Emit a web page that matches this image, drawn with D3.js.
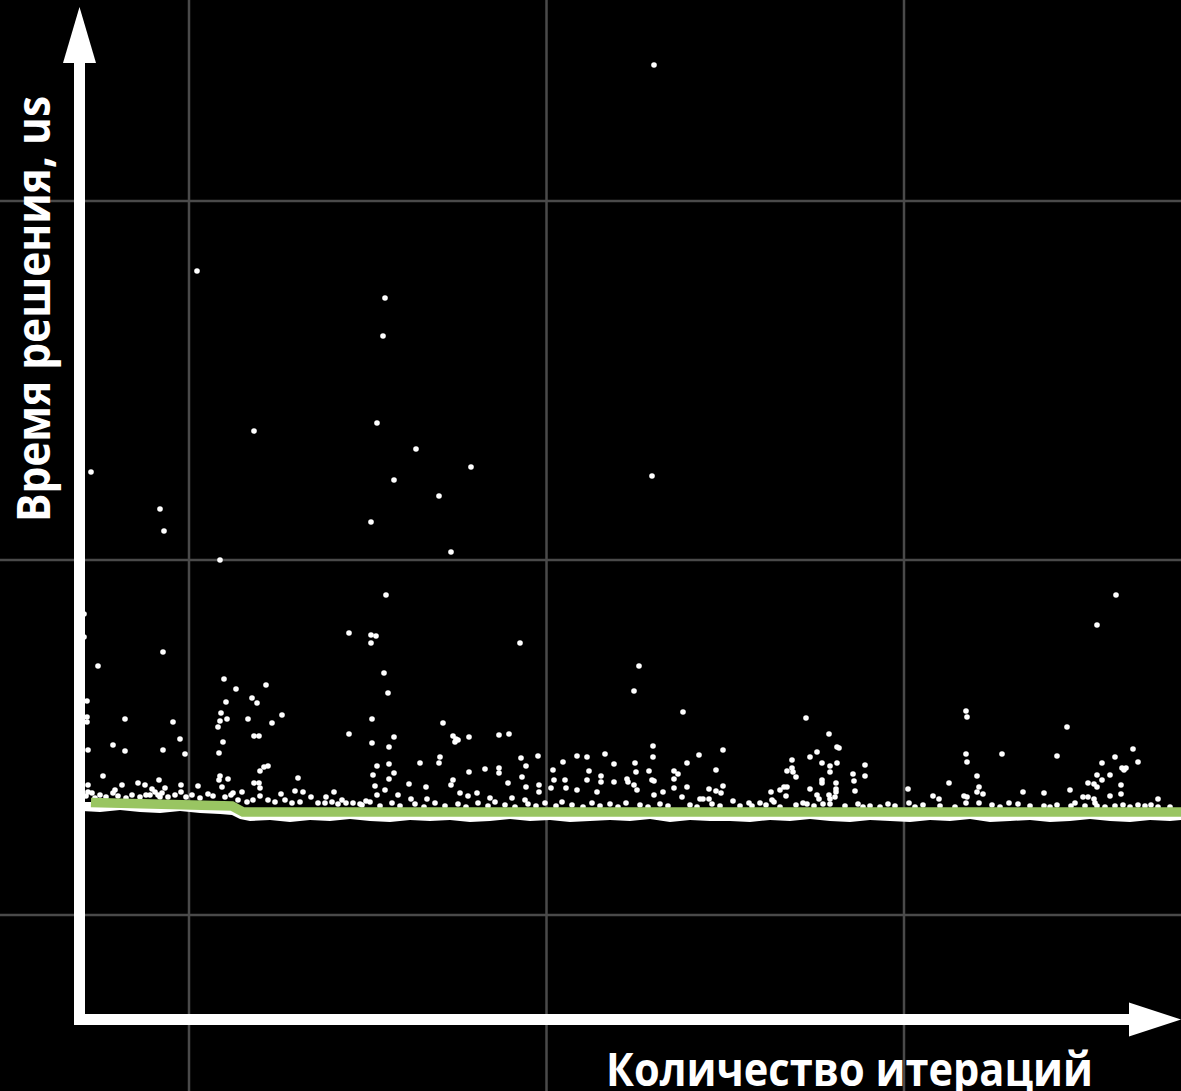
<!DOCTYPE html>
<html lang="ru">
<head>
<meta charset="utf-8">
<title>Время решения</title>
<script src="https://cdn.jsdelivr.net/npm/d3@7"></script>
<style>
  html, body { margin: 0; padding: 0; background: #000; }
  svg { display: block; }
</style>
</head>
<body>
<svg id="chart" width="1181" height="1091"></svg>
<script>
// Axis titles
const xTitle = "Количество итераций";
const yTitle = "Время решения, us";

// Background grid values (iterations / microseconds)
const gridX = [110, 467.5, 825];
const gridY = [105, 460, 819];

// Trend of the solve time (green line)
const trendX = [12, 153, 164, 1102];
const trendY = [217.5, 214, 208, 208];

// Dense core of fastest solves: upper and lower edge along the run
const bandX = [3, 21, 41, 61, 81, 101, 121, 141, 153, 161, 171,
  191, 211, 231, 251, 271, 291, 311, 331, 351, 371, 391, 411, 431, 451,
  471, 491, 511, 531, 551, 571, 591, 611, 631, 651, 671, 691, 711, 731,
  751, 771, 791, 811, 831, 851, 871, 891, 911, 931, 951, 971, 991, 1011,
  1031, 1051, 1071, 1091, 1102];
const bandTop = [218, 218, 218, 218, 218, 218, 218, 218, 218, 210, 210,
  210, 210, 210, 210, 210, 210, 210, 210, 210, 210, 210, 210, 210, 210,
  210, 210, 210, 210, 210, 210, 210, 210, 210, 210, 210, 210, 210, 210,
  210, 210, 210, 210, 210, 210, 210, 210, 210, 210, 210, 210, 210, 210,
  210, 210, 210, 210, 210];
const bandBottom = [209, 208, 210, 208, 207, 209, 207, 206, 205, 201,
  199, 200, 198, 200, 199, 201, 199, 198, 200, 199,
  200, 198, 199, 201, 199, 200, 198, 199, 200, 199,
  201, 198, 200, 199, 199, 198, 200, 199, 201, 199,
  198, 200, 199, 198, 200, 199, 201, 198, 199, 200,
  198, 199, 201, 199, 198, 200, 199, 200];

// Individual solves: [iteration, time in us]
const outliers = [
  [575, 955], [118, 749], [306, 722], [304, 684], [298, 597], [175, 589],
  [12, 548], [392, 553], [337, 571], [573, 544], [315, 540], [360, 524],
  [81, 511], [85, 489], [292, 498], [372, 468], [141, 460], [307, 425],
  [1037, 425], [1018, 395], [441, 377], [270, 387], [292, 385], [297, 384],
  [292, 377], [84, 368], [305, 347], [560, 354], [555, 329], [309, 327],
  [19, 354], [5, 406], [5, 383]
];

const spread = [
  [8, 319], [8, 303], [8, 298], [46, 301], [94, 298], [145, 341], [157, 331],
  [187, 335], [173, 322], [178, 317], [147, 318], [142, 307], [141, 299],
  [139, 293], [148, 301], [169, 301], [193, 297], [203, 305], [175, 284],
  [180, 284], [144, 278], [101, 281], [140, 267], [106, 266], [84, 270],
  [46, 269], [34, 275], [9, 270], [270, 286], [181, 249], [185, 253],
  [189, 254], [24, 244], [80, 240], [59, 237], [66, 235], [43, 235],
  [73, 231], [102, 235], [119, 234], [141, 244], [140, 240], [149, 241],
  [143, 233], [175, 237], [180, 237], [181, 232], [219, 242], [216, 229],
  [224, 228], [202, 226], [232, 223], [255, 228], [247, 223], [263, 220],
  [163, 228], [36, 230], [9, 235], [86, 232], [102, 228], [9, 228],
  [13, 227], [154, 227], [129, 226], [181, 224], [189, 220], [246, 217],
  [274, 217], [34, 227], [76, 228], [79, 225], [83, 227], [81, 223], [71, 225],
  [293, 301], [293, 277], [310, 273], [315, 283], [364, 297], [374, 284],
  [377, 281], [376, 278], [379, 280], [390, 283], [420, 285], [430, 286],
  [459, 264], [442, 262], [447, 254], [443, 243], [447, 233], [460, 235],
  [460, 228], [484, 258], [474, 250], [475, 240], [472, 232], [486, 240],
  [487, 232], [498, 264], [508, 263], [510, 249], [508, 240], [498, 230],
  [526, 266], [535, 256], [522, 244], [522, 238], [535, 238], [518, 228],
  [556, 257], [557, 248], [548, 241], [549, 238], [555, 235], [558, 230],
  [570, 249], [361, 263], [360, 257], [341, 257], [298, 254], [310, 256],
  [315, 247], [310, 241], [294, 245], [296, 234], [306, 230], [298, 225],
  [319, 225], [330, 236], [347, 233], [374, 240], [372, 235], [390, 248],
  [406, 251], [420, 252], [420, 247], [429, 237], [381, 227], [389, 224],
  [398, 227], [411, 222], [433, 222], [446, 220], [332, 221], [348, 221],
  [604, 308], [574, 274], [574, 263], [620, 265], [644, 270], [608, 257],
  [637, 250], [595, 249], [599, 246], [573, 240], [575, 239], [595, 241],
  [608, 233], [595, 232], [584, 228], [630, 231], [637, 229], [642, 227],
  [644, 234], [575, 225], [603, 223], [621, 221], [624, 221], [654, 219],
  [727, 302], [750, 286], [758, 273], [760, 272], [738, 268], [731, 263],
  [743, 257], [758, 257], [751, 254], [751, 248], [713, 260], [713, 252],
  [714, 248], [708, 249], [717, 243], [743, 240], [743, 237], [731, 231],
  [757, 237], [757, 231], [786, 255], [786, 244], [774, 246], [775, 239],
  [776, 229], [705, 233], [708, 233], [701, 230], [692, 228], [707, 224],
  [693, 220], [695, 218], [738, 225], [740, 221], [750, 225], [751, 221],
  [756, 223], [757, 228], [724, 217], [728, 216], [744, 216], [681, 217],
  [670, 217], [673, 214], [809, 216], [829, 231], [830, 217], [854, 224],
  [860, 221], [870, 237], [844, 215], [784, 213], [630, 221],
  [887, 309], [888, 303], [988, 293], [887, 266], [888, 258], [923, 266],
  [978, 264], [1054, 271], [1059, 258], [1036, 263], [1023, 257],
  [1043, 252], [1045, 250], [1047, 252], [1018, 245], [1031, 245],
  [1023, 240], [898, 244], [900, 233], [898, 228], [904, 226], [944, 228],
  [965, 227], [991, 230], [1009, 237], [1015, 236], [1018, 233], [1042, 235],
  [1042, 226], [1031, 224], [1004, 223], [1009, 223], [1015, 221],
  [1016, 217], [1018, 214], [885, 224], [888, 223], [887, 217], [900, 217],
  [913, 215], [930, 217], [939, 216], [965, 214], [978, 215], [992, 214],
  [996, 217], [1036, 214], [1044, 215], [1059, 215], [1072, 215],
  [1079, 221], [1079, 213]
];

const nearBase = [
  [7, 224], [16, 222], [21, 225], [27, 223], [39, 224], [47, 222], [53, 225],
  [61, 223], [67, 225], [89, 223], [96, 225], [107, 223], [113, 225],
  [121, 222], [134, 224], [146, 223], [152, 225], [159, 220], [168, 218],
  [174, 220], [196, 218], [206, 220], [213, 217], [221, 218], [239, 217],
  [253, 218], [259, 216], [267, 217], [281, 216], [287, 219],
  [283, 215], [291, 218], [301, 214], [313, 217], [321, 214], [336, 216],
  [345, 213], [356, 217], [366, 214], [379, 216], [387, 213], [399, 217],
  [409, 214], [416, 218], [426, 215], [436, 213], [449, 216], [457, 214],
  [466, 217], [477, 214], [483, 218], [493, 215], [504, 213], [513, 217],
  [521, 214], [531, 216], [539, 213], [547, 217], [561, 215], [569, 213],
  [581, 216], [589, 214], [611, 215], [618, 213], [633, 216], [641, 214],
  [661, 214], [687, 215], [701, 213], [717, 215], [735, 214], [751, 216],
  [766, 214], [779, 216], [791, 214], [801, 213], [816, 214], [836, 213],
  [861, 214], [876, 213], [921, 213], [951, 214], [971, 213], [1006, 214],
  [1026, 213], [1051, 213], [1066, 214], [1091, 213]
];

const W = 1181, H = 1091;
const svg = d3.select("#chart");

const x = d3.scaleLinear().domain([0, 1100]).range([79, 1179]);
const y = d3.scaleLinear().domain([0, 1012]).range([1020, 8]);

svg.append("rect").attr("width", W).attr("height", H).attr("fill", "#000");

// grid
const grid = svg.append("g").attr("stroke", "#4a4a4a").attr("stroke-width", 2.5);
grid.selectAll("line.gx").data(gridX).join("line")
  .attr("class", "gx")
  .attr("x1", d => x(d)).attr("x2", d => x(d))
  .attr("y1", 0).attr("y2", H);
grid.selectAll("line.gy").data(gridY).join("line")
  .attr("class", "gy")
  .attr("y1", d => y(d)).attr("y2", d => y(d))
  .attr("x1", 0).attr("x2", W);

// dense core of the fastest solves
const band = bandX.map((v, i) => ({ x: v, top: bandTop[i], bottom: bandBottom[i] }));
svg.append("path")
  .datum(band)
  .attr("fill", "#fff")
  .attr("d", d3.area()
    .x(d => x(d.x))
    .y0(d => y(d.bottom))
    .y1(d => y(d.top)));

// scattered solves
const allPoints = outliers.concat(spread, nearBase);
svg.append("g").attr("fill", "#fff")
  .selectAll("circle").data(allPoints).join("circle")
  .attr("cx", d => x(d[0]))
  .attr("cy", d => y(d[1]))
  .attr("r", 2.8);

// trend line
const trend = trendX.map((v, i) => [v, trendY[i]]);
svg.append("path")
  .datum(trend)
  .attr("fill", "none")
  .attr("stroke", "#99c562")
  .attr("stroke-width", 9.5)
  .attr("d", d3.line().x(d => x(d[0])).y(d => y(d[1])));

// axes with arrow heads
const x0 = x(0) + 0.5, y0 = y(0) - 0.5;
const axes = svg.append("g");
axes.append("line")
  .attr("x1", x0).attr("x2", x0)
  .attr("y1", y0 + 5.5).attr("y2", 60)
  .attr("stroke", "#fff").attr("stroke-width", 11);
axes.append("line")
  .attr("x1", x0 - 5.5).attr("x2", 1132)
  .attr("y1", y0).attr("y2", y0)
  .attr("stroke", "#fff").attr("stroke-width", 11);
axes.append("path")
  .attr("fill", "#fff")
  .attr("d", `M${x0},7 L${x0 - 16.5},63 L${x0 + 16.5},63 Z`);
axes.append("path")
  .attr("fill", "#fff")
  .attr("d", `M1181,${y0} L1129,${y0 - 17} L1129,${y0 + 17} Z`);

// axis titles
svg.append("text")
  .attr("x", 606).attr("y", 1086)
  .attr("fill", "#fff")
  .attr("font-family", "'Open Sans', 'DejaVu Sans', sans-serif")
  .attr("font-weight", 700)
  .attr("font-size", 47)
  .attr("textLength", 487)
  .attr("lengthAdjust", "spacingAndGlyphs")
  .text(xTitle);

svg.append("text")
  .attr("transform", "translate(50,522) rotate(-90)")
  .attr("x", 0).attr("y", 0)
  .attr("fill", "#fff")
  .attr("font-family", "'Open Sans', 'DejaVu Sans', sans-serif")
  .attr("font-weight", 700)
  .attr("font-size", 47)
  .attr("textLength", 426)
  .attr("lengthAdjust", "spacingAndGlyphs")
  .text(yTitle);
</script>
</body>
</html>
